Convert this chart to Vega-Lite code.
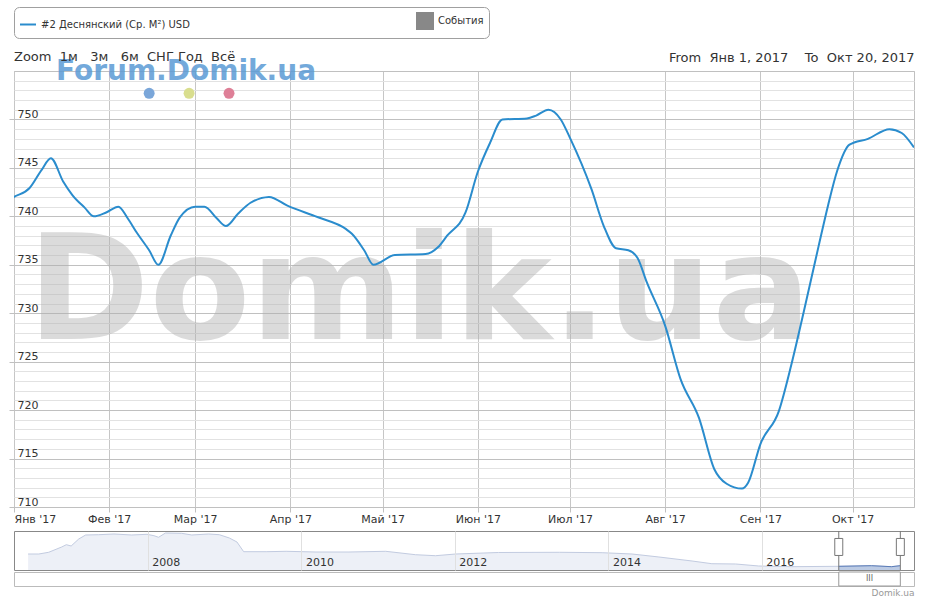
{
  "$schema": "https://vega.github.io/schema/vega-lite/v6.json",
  "background": "white",
  "padding": {"left": 8, "top": 6, "right": 6, "bottom": 0},
  "config": {"font": "DejaVu Sans", "view": {"stroke": null}},
  "spacing": 0,
  "datasets": {
    "price": [
      {"date": "2016-12-31", "v": 741.8},
      {"date": "2017-01-01", "v": 742.0},
      {"date": "2017-01-06", "v": 742.9},
      {"date": "2017-01-10", "v": 744.8},
      {"date": "2017-01-13", "v": 746.0},
      {"date": "2017-01-17", "v": 743.6},
      {"date": "2017-01-20", "v": 742.2},
      {"date": "2017-01-24", "v": 740.9},
      {"date": "2017-01-27", "v": 740.0},
      {"date": "2017-01-31", "v": 740.4},
      {"date": "2017-02-04", "v": 741.0},
      {"date": "2017-02-07", "v": 739.8},
      {"date": "2017-02-10", "v": 738.3},
      {"date": "2017-02-14", "v": 736.5},
      {"date": "2017-02-17", "v": 735.0},
      {"date": "2017-02-21", "v": 738.0},
      {"date": "2017-02-24", "v": 739.9},
      {"date": "2017-03-01", "v": 741.0},
      {"date": "2017-03-04", "v": 741.0},
      {"date": "2017-03-08", "v": 739.8},
      {"date": "2017-03-11", "v": 739.0},
      {"date": "2017-03-15", "v": 740.3},
      {"date": "2017-03-19", "v": 741.4},
      {"date": "2017-03-25", "v": 742.0},
      {"date": "2017-03-31", "v": 741.1},
      {"date": "2017-04-10", "v": 739.9},
      {"date": "2017-04-19", "v": 738.7},
      {"date": "2017-04-21", "v": 738.2},
      {"date": "2017-04-25", "v": 736.5},
      {"date": "2017-04-28", "v": 735.0},
      {"date": "2017-05-05", "v": 736.0},
      {"date": "2017-05-15", "v": 736.1},
      {"date": "2017-05-19", "v": 736.8},
      {"date": "2017-05-22", "v": 738.0},
      {"date": "2017-05-28", "v": 740.4},
      {"date": "2017-06-01", "v": 744.6},
      {"date": "2017-06-05", "v": 747.6},
      {"date": "2017-06-09", "v": 750.0},
      {"date": "2017-06-17", "v": 750.1},
      {"date": "2017-06-20", "v": 750.4},
      {"date": "2017-06-24", "v": 751.0},
      {"date": "2017-06-28", "v": 750.0},
      {"date": "2017-07-01", "v": 748.1},
      {"date": "2017-07-08", "v": 742.8},
      {"date": "2017-07-12", "v": 739.0},
      {"date": "2017-07-16", "v": 736.7},
      {"date": "2017-07-20", "v": 736.5},
      {"date": "2017-07-23", "v": 735.7},
      {"date": "2017-07-26", "v": 733.2},
      {"date": "2017-08-01", "v": 728.7},
      {"date": "2017-08-06", "v": 723.2},
      {"date": "2017-08-12", "v": 719.2},
      {"date": "2017-08-17", "v": 713.9},
      {"date": "2017-08-21", "v": 712.4},
      {"date": "2017-08-26", "v": 711.9},
      {"date": "2017-08-28", "v": 712.5},
      {"date": "2017-09-01", "v": 716.5},
      {"date": "2017-09-07", "v": 719.9},
      {"date": "2017-09-11", "v": 724.6},
      {"date": "2017-09-15", "v": 730.0},
      {"date": "2017-09-20", "v": 737.0},
      {"date": "2017-09-23", "v": 741.1},
      {"date": "2017-09-26", "v": 744.7},
      {"date": "2017-09-30", "v": 747.4},
      {"date": "2017-10-06", "v": 748.0},
      {"date": "2017-10-13", "v": 749.0},
      {"date": "2017-10-17", "v": 748.6},
      {"date": "2017-10-21", "v": 747.1}
    ],
    "nav": [
      {"date": "2006-06-10", "v": 1412},
      {"date": "2006-07-31", "v": 1412},
      {"date": "2006-09-16", "v": 1506},
      {"date": "2006-11-17", "v": 1798},
      {"date": "2006-12-09", "v": 1925},
      {"date": "2007-01-01", "v": 1853},
      {"date": "2007-02-06", "v": 2239},
      {"date": "2007-03-11", "v": 2460},
      {"date": "2007-05-12", "v": 2476},
      {"date": "2007-07-24", "v": 2515},
      {"date": "2007-10-16", "v": 2460},
      {"date": "2007-12-28", "v": 2498},
      {"date": "2008-01-30", "v": 2421},
      {"date": "2008-02-21", "v": 2333},
      {"date": "2008-03-25", "v": 2570},
      {"date": "2008-06-10", "v": 2553},
      {"date": "2008-07-28", "v": 2460},
      {"date": "2008-10-16", "v": 2515},
      {"date": "2008-12-06", "v": 2476},
      {"date": "2009-01-23", "v": 2294},
      {"date": "2009-02-28", "v": 2074},
      {"date": "2009-04-01", "v": 1539},
      {"date": "2009-07-17", "v": 1539},
      {"date": "2009-10-20", "v": 1561},
      {"date": "2010-03-11", "v": 1522},
      {"date": "2010-08-15", "v": 1522},
      {"date": "2011-02-06", "v": 1561},
      {"date": "2011-06-28", "v": 1373},
      {"date": "2011-10-01", "v": 1318},
      {"date": "2012-01-05", "v": 1412},
      {"date": "2012-07-27", "v": 1495},
      {"date": "2013-05-12", "v": 1506},
      {"date": "2013-12-02", "v": 1484},
      {"date": "2014-04-23", "v": 1412},
      {"date": "2014-08-29", "v": 1247},
      {"date": "2015-02-03", "v": 1026},
      {"date": "2015-05-08", "v": 877},
      {"date": "2015-08-29", "v": 861},
      {"date": "2015-12-17", "v": 751},
      {"date": "2016-05-22", "v": 713},
      {"date": "2017-01-01", "v": 734},
      {"date": "2017-06-06", "v": 767},
      {"date": "2017-09-09", "v": 713},
      {"date": "2017-10-20", "v": 767}
    ]
  },
  "vconcat": [
    {
      "width": 900,
      "height": 436,
      "title": {"text": "Zoom\u00a0\u00a01м\u00a0\u00a0\u00a03м\u00a0\u00a0\u00a06м\u00a0\u00a0СНГ\u00a0Год\u00a0\u00a0Всё", "anchor": "start", "frame": "group", "fontSize": 13, "fontWeight": "normal", "color": "#333333", "baseline": "alphabetic", "offset": -23},
      "view": {"stroke": "#c0c0c0"},
      "resolve": {"axis": {"x": "independent"}},
      "encoding": {
        "y": {"field": "v", "type": "quantitative",
          "scale": {"domain": [710, 755], "nice": false, "zero": false},
          "axis": {"values": [710,711,712,713,714,715,716,717,718,719,720,721,722,723,724,725,726,727,728,729,730,731,732,733,734,735,736,737,738,739,740,741,742,743,744,745,746,747,748,749,750,751,752,753,754,755],
            "gridColor": {"condition": {"test": "datum.value % 5 === 0", "value": "#c0c0c0"}, "value": "#e2e2e2"},
            "tickOpacity": {"condition": {"test": "datum.value % 5 === 0 && datum.value < 755", "value": 1}, "value": 0},
            "tickColor": "#c0c0c0", "tickSize": 5,
            "labelExpr": "datum.value % 5 === 0 && datum.value < 755 ? datum.label : ''",
            "labelAlign": "left", "labelPadding": -8, "labelBaseline": "alphabetic", "labelOffset": -2,
            "labelFontSize": 11, "labelColor": "#333333", "domain": false, "title": null, "labelOverlap": false, "labelFlush": false, "labelBound": false}}
      },
      "layer": [
        {
          "data": {"values": [{"date": "2017-05-13", "v": 727.3, "t": "Domik.ua"}]},
          "mark": {"type": "text", "fontSize": 147, "fontWeight": "bold", "color": "#b0b0b0", "opacity": 0.45, "align": "center", "baseline": "alphabetic"},
          "encoding": {
            "x": {"field": "date", "type": "temporal",
              "scale": {"type": "utc", "domain": [{"year": 2017, "month": 1, "date": 1, "utc": true}, {"year": 2017, "month": 10, "date": 21, "utc": true}]},
              "axis": {"orient": "top", "title": "From\u00a0\u00a0Янв 1, 2017\u00a0\u00a0\u00a0\u00a0To\u00a0\u00a0Окт 20, 2017", "labels": false, "ticks": false, "domain": false, "grid": false, "titleAnchor": "end", "titleFontSize": 13, "titleFontWeight": "normal", "titleColor": "#333333", "titleBaseline": "alphabetic", "titlePadding": 10}},
            "text": {"field": "t"}
          }
        },
        {
          "data": {"values": [{"date": "2017-02-26", "v": 754.1, "t": "Forum.Domik.ua"}]},
          "mark": {"type": "text", "fontSize": 28, "fontWeight": "bold", "color": "#5b9bd5", "opacity": 0.85, "align": "center", "baseline": "alphabetic"},
          "encoding": {
            "x": {"field": "date", "type": "temporal", "axis": null},
            "text": {"field": "t"}
          }
        },
        {
          "data": {"values": [{"k": "a", "date": "2017-02-14", "v": 752.7}, {"k": "b", "date": "2017-02-27", "v": 752.7}, {"k": "c", "date": "2017-03-12", "v": 752.7}]},
          "mark": {"type": "point", "filled": true, "size": 120, "opacity": 1},
          "encoding": {
            "x": {"field": "date", "type": "temporal", "axis": null},
            "fill": {"field": "k", "type": "nominal", "scale": {"domain": ["a", "b", "c"], "range": ["#7aa6d9", "#d9de8e", "#de7f97"]}, "legend": null}
          }
        },
        {
          "data": {"name": "price"},
          "mark": {"type": "line", "interpolate": "monotone", "strokeWidth": 2, "clip": true},
          "encoding": {
            "x": {"field": "date", "type": "temporal",
              "axis": {"orient": "bottom", "tickCount": {"interval": "month", "step": 1}, "labelExpr": "['Янв','Фев','Мар','Апр','Май','Июн','Июл','Авг','Сен','Окт','Ноя','Дек'][utcmonth(datum.value)] + \" '17\"", "grid": true, "gridColor": "#c6c6c6", "tickColor": "#c0c0c0", "tickSize": 5, "domainColor": "#c0c0c0", "labelFontSize": 11, "labelColor": "#333333", "labelPadding": 1, "labelFlush": 20, "labelOverlap": false, "title": null, "minExtent": 22}},
            "color": {"datum": "#2 Деснянский (Ср. М²) USD", "type": "nominal",
              "scale": {"domain": ["#2 Деснянский (Ср. М²) USD", "События"], "range": ["#2a8ccd", "#888888"]},
              "legend": {"orient": "top", "title": null, "direction": "horizontal", "columnPadding": 223, "gridAlign": "all", "strokeColor": "#a0a0a0", "cornerRadius": 5, "padding": 5, "fillColor": "white", "labelFontSize": 10, "labelColor": "#333333", "symbolType": "stroke", "symbolStrokeWidth": 2, "symbolSize": 256, "offset": 12, "labelLimit": 300,
                "encode": {"symbols": {"update": {"shape": {"signal": "datum.label === 'События' ? 'square' : 'stroke'"}, "fill": {"signal": "datum.label === 'События' ? '#888888' : 'transparent'"}}}}}}
          }
        }
      ]
    },
    {
      "width": 900,
      "height": 39,
      "view": {"stroke": "#888888"},
      "data": {"name": "nav"},
      "layer": [
        {
          "mark": {"type": "area", "color": "#e6eaf3", "clip": true, "line": {"color": "#c2cbe0", "strokeWidth": 1}},
          "encoding": {
            "x": {"field": "date", "type": "temporal",
              "scale": {"type": "utc", "domain": [{"year": 2006, "month": 4, "date": 4, "utc": true}, {"year": 2017, "month": 12, "date": 25, "utc": true}]},
              "axis": {"orient": "bottom", "zindex": 1, "tickCount": {"interval": "year", "step": 2}, "format": "%Y", "grid": true, "gridColor": "#e0e0e0", "ticks": false, "tickSize": 0, "domain": false, "labelAlign": "left", "labelBaseline": "alphabetic", "labelPadding": -5, "labelOffset": 4, "labelFontSize": 11, "labelColor": "#333333", "title": null, "labelFlush": false, "labelBound": false, "labelOverlap": false, "minExtent": 0, "maxExtent": 0}},
            "y": {"field": "v", "type": "quantitative", "scale": {"domain": [530, 2680], "zero": false, "nice": false}, "axis": null},
            "y2": {"datum": 530}
          }
        },
        {
          "transform": [{"filter": {"field": "date", "gte": {"year": 2017, "month": 1, "date": 1, "utc": true}}}],
          "mark": {"type": "area", "color": "#a7badc", "clip": true, "line": {"color": "#5b7cb8", "strokeWidth": 1}},
          "encoding": {
            "x": {"field": "date", "type": "temporal"},
            "y": {"field": "v", "type": "quantitative"},
            "y2": {"datum": 530}
          }
        },
        {
          "data": {"values": [{"date": "2017-01-01"}, {"date": "2017-10-21"}]},
          "layer": [
            {"mark": {"type": "rule", "color": "#777777"}, "encoding": {"x": {"field": "date", "type": "temporal"}}},
            {"mark": {"type": "point", "shape": "M-0.47,-1H0.47V1H-0.47Z", "size": 289, "filled": true, "fill": "white", "stroke": "#777777", "strokeWidth": 1, "opacity": 1},
             "encoding": {"x": {"field": "date", "type": "temporal"}, "y": {"datum": 1800, "type": "quantitative"}}}
          ]
        }
      ]
    },
    {
      "width": 900,
      "height": 14,
      "view": {"stroke": "#bbbbbb"},
      "data": {"values": [{"start": "2017-01-01", "end": "2017-10-21", "mid": "2017-05-27", "t": "III"}]},
      "layer": [
        {
          "mark": {"type": "rect", "fill": "#ffffff", "stroke": "#999999"},
          "encoding": {
            "x": {"field": "start", "type": "temporal",
              "scale": {"type": "utc", "domain": [{"year": 2006, "month": 4, "date": 4, "utc": true}, {"year": 2017, "month": 12, "date": 25, "utc": true}]},
              "axis": {"title": "Domik.ua", "labels": false, "ticks": false, "domain": false, "grid": false, "titleAnchor": "end", "titleFontSize": 9, "titleColor": "#999999", "titleFontWeight": "normal", "titlePadding": 2}},
            "x2": {"field": "end"}
          }
        },
        {
          "mark": {"type": "text", "fontSize": 8, "color": "#666666"},
          "encoding": {
            "x": {"field": "mid", "type": "temporal"},
            "text": {"field": "t"}
          }
        }
      ]
    }
  ]
}
